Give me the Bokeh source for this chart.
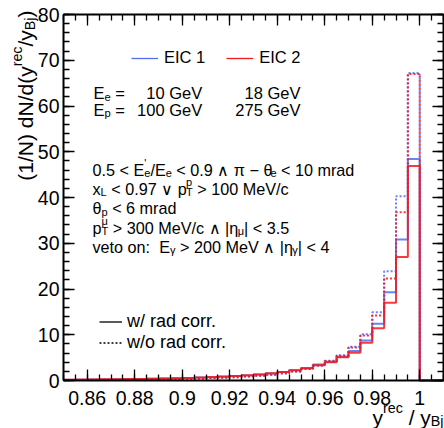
import math
from bokeh.plotting import figure
from bokeh.models import (Range1d, LinearAxis, SingleIntervalTicker,
                          CustomJSTickFormatter, Label, Legend, LegendItem)
from bokeh.embed import file_html
from bokeh.resources import INLINE

# ---------------- data ----------------
bin_lo = [0.850, 0.855, 0.860, 0.865, 0.870, 0.875, 0.880, 0.885, 0.890, 0.895,
          0.900, 0.905, 0.910, 0.915, 0.920, 0.925, 0.930, 0.935, 0.940, 0.945,
          0.950, 0.955, 0.960, 0.965, 0.970, 0.975, 0.980, 0.985, 0.990, 0.995,
          1.000, 1.005]
last_edge = 1.010

eic1_rad = [0.17, 0.19, 0.21, 0.24, 0.27, 0.30, 0.34, 0.38, 0.43, 0.49,
            0.55, 0.63, 0.72, 0.83, 0.96, 1.11, 1.30, 1.55, 1.86, 2.25,
            2.75, 3.50, 4.10, 5.20, 6.45, 8.75, 12.4, 19.3, 30.8, 48.4,
            0.0, 0.0]
eic2_rad = [0.18, 0.20, 0.22, 0.25, 0.28, 0.31, 0.35, 0.39, 0.44, 0.50,
            0.56, 0.64, 0.74, 0.85, 0.98, 1.13, 1.32, 1.57, 1.88, 2.25,
            2.70, 3.35, 4.00, 5.10, 6.05, 8.25, 11.4, 17.0, 27.0, 46.9,
            0.0, 0.0]
eic1_norad = [0.10, 0.11, 0.13, 0.15, 0.17, 0.19, 0.22, 0.25, 0.29, 0.33,
              0.38, 0.44, 0.52, 0.61, 0.72, 0.86, 1.03, 1.25, 1.55, 1.95,
              2.50, 3.30, 4.30, 5.50, 7.40, 10.1, 14.9, 23.9, 40.3, 67.2,
              0.0, 0.0]
eic2_norad = [0.11, 0.12, 0.14, 0.16, 0.18, 0.20, 0.23, 0.26, 0.30, 0.34,
              0.39, 0.45, 0.53, 0.62, 0.73, 0.87, 1.04, 1.27, 1.57, 1.95,
              2.50, 3.30, 4.25, 5.40, 7.20, 9.85, 14.2, 22.3, 36.8, 67.0,
              0.0, 0.0]

series_names = ["EIC 1", "EIC 2"]
style_names = ["w/ rad corr.", "w/o rad corr."]
x_title = ["y", "rec", " / y", "Bj"]
y_title = ["(1/N) dN/d(y", "rec", "/y", "Bj", ")"]

XA, XB = 0.85, 1.01      # axis limits
YA, YB = 0.0, 80.0

# ---------------- layout ----------------
FONT = "Liberation Sans"
BLUE = "#4f6ef2"
RED = "#f2191f"
W, H = 444, 428          # canvas (page body has no margin in Bokeh's template)
FX0, FX1 = 63.0, 443.0   # page px of the axis box
FY0, FY1 = 14.0, 380.0


def dx(px):   # page px -> data
    return XA + (px - FX0) * (XB - XA) / (FX1 - FX0)


def dy(py):
    return YA + (FY1 - py) * (YB - YA) / (FY1 - FY0)


p = figure(width=W, height=H, output_backend="svg", toolbar_location=None,
           x_range=Range1d(dx(0), dx(W)), y_range=Range1d(dy(H), dy(0)),
           min_border=0, x_axis_type=None, y_axis_type=None)
p.xgrid.visible = False
p.ygrid.visible = False
p.outline_line_color = None
p.background_fill_color = "white"
p.border_fill_color = "white"

fmt_x = CustomJSTickFormatter(code="return (Math.round(tick*1000)/1000).toString();")
fmt_y = CustomJSTickFormatter(code="return Math.round(tick).toString();")
fmt_none = CustomJSTickFormatter(code="return '';")


def make_axis(kind, labelled, loc):
    if kind == "x":
        tk = SingleIntervalTicker(interval=0.02, num_minor_ticks=4)
        bounds = (XA, XB)
    else:
        tk = SingleIntervalTicker(interval=10, num_minor_ticks=5)
        bounds = (YA, YB)
    ax = LinearAxis(ticker=tk, fixed_location=loc, bounds=bounds)
    ax.axis_line_color = "black"
    ax.axis_line_width = 2
    ax.major_tick_in = 11
    ax.major_tick_out = 0
    ax.minor_tick_in = 6
    ax.minor_tick_out = 0
    ax.major_tick_line_color = "black"
    ax.minor_tick_line_color = "black"
    ax.major_tick_line_width = 1.3
    ax.minor_tick_line_width = 1.3
    if labelled:
        ax.formatter = fmt_x if kind == "x" else fmt_y
        ax.major_label_text_font = FONT
        ax.major_label_text_font_size = "19.5px"
        ax.major_label_text_color = "black"
        ax.major_label_standoff = 10 if kind == "x" else 4
    else:
        ax.formatter = fmt_none
        ax.major_label_text_font_size = "0px"
        ax.major_label_standoff = 0
    return ax


p.add_layout(make_axis("x", True, YA), "below")
p.add_layout(make_axis("y", True, XA), "left")
p.add_layout(make_axis("x", False, YB), "above")
p.add_layout(make_axis("y", False, XB), "right")

# ---------------- histograms ----------------
xs = bin_lo + [last_edge]


def hist(vals, color, dash):
    return p.step(x=xs, y=vals + [vals[-1]], mode="after", line_color=color,
                  line_width=2, line_alpha=0.85, line_dash=dash)


hist(eic1_rad, BLUE, "solid")
hist(eic1_norad, BLUE, "2 2")
hist(eic2_rad, RED, "solid")
hist(eic2_norad, RED, "2 2")

# ---------------- legends ----------------
NAN = [float("nan")]
l_e1 = p.line(x=NAN, y=NAN, line_color=BLUE, line_width=1.3)
l_e2 = p.line(x=NAN, y=NAN, line_color=RED, line_width=1.3)
l_w = p.line(x=NAN, y=NAN, line_color="black", line_width=1.3)
l_wo = p.line(x=NAN, y=NAN, line_color="black", line_width=1.3, line_dash="2 2")

leg1 = Legend(items=[LegendItem(label=series_names[0], renderers=[l_e1]),
                     LegendItem(label=series_names[1], renderers=[l_e2])],
              orientation="horizontal", location=(131, H - 67.7),
              glyph_width=27, glyph_height=20, label_height=20, label_standoff=6,
              spacing=21, padding=0, margin=0, border_line_color=None,
              background_fill_alpha=0, label_text_font=FONT,
              label_text_font_size="16.5px", label_text_color="black")
leg2 = Legend(items=[LegendItem(label=style_names[0], renderers=[l_w]),
                     LegendItem(label=style_names[1], renderers=[l_wo])],
              orientation="vertical", location=(99, H - 352.5),
              glyph_width=23, glyph_height=19, label_height=19, label_standoff=5,
              spacing=0, padding=0, margin=0, border_line_color=None,
              background_fill_alpha=0, label_text_font=FONT,
              label_text_font_size="18px", label_text_color="black")
p.add_layout(leg1)
p.add_layout(leg2)

# ---------------- rich text helper ----------------
CW = {' ': 278, '(': 333, ')': 333, '+': 584, ',': 278, '-': 333,
      '.': 278, '/': 278, ':': 278, '<': 584, '=': 584, '>': 584, '|': 260,
      "'": 191, 'θ': 556, 'π': 600, 'γ': 500, 'η': 556, 'μ': 576, '∧': 700,
      '∨': 700, '−': 584}
for c in "0123456789":
    CW[c] = 556
CW.update(dict(zip("ABCDEFGHIJKLMNOPQRSTUVWXYZ",
                   [667, 667, 722, 722, 667, 611, 778, 722, 278, 500, 667, 556, 833,
                    722, 778, 667, 778, 722, 667, 611, 722, 667, 944, 667, 667, 611])))
CW.update(dict(zip("abcdefghijklmnopqrstuvwxyz",
                   [556, 556, 500, 556, 556, 278, 556, 556, 222, 222, 500, 222, 833,
                    556, 556, 556, 556, 333, 500, 278, 556, 500, 722, 500, 500, 500])))

SUBK = 0.68


def tw(s, sz):
    return sum(CW.get(c, 556) for c in s) / 1000.0 * sz


def rich(x_px, y_px, parts, size, align="left", angle=0.0, subdrop=0.22):
    """x_px, y_px: baseline anchor in page px."""
    items = []
    off = 0.0
    ss = size * SUBK
    for part in parts:
        kind = part[0]
        if kind == "n":
            items.append((off, 0.0, part[1], size))
            off += tw(part[1], size)
        elif kind == "sub":
            items.append((off, -subdrop * size, part[1], ss))
            off += tw(part[1], ss)
        elif kind == "sup":
            items.append((off, 0.42 * size, part[1], ss))
            off += tw(part[1], ss)
        elif kind == "ss":
            items.append((off, -subdrop * size, part[1], ss))
            items.append((off, 0.42 * size, part[2], ss))
            off += max(tw(part[1], ss), tw(part[2], ss))
    start = 0.0 if align == "left" else -off
    for o, sh, t, sz in items:
        lead = len(t) - len(t.lstrip(" "))
        o2 = start + o + tw(" " * lead, sz)
        t2 = t.strip(" ")
        if not t2:
            continue
        if angle == 0:
            px, py = x_px + o2, y_px - sh
        else:
            px, py = x_px - sh, y_px - o2
        p.add_layout(Label(x=dx(px), y=dy(py), text=t2, text_font=FONT,
                           text_font_size=f"{sz:.2f}px", text_color="black",
                           text_baseline="alphabetic", text_align="left",
                           angle=angle))


# beam energies
EF = 16.5
rich(93, 92.7, [("n", "E"), ("sub", "e"), ("n", " =")], EF)
rich(201.7, 92.7, [("n", "10 GeV")], EF, align="right")
rich(300, 92.7, [("n", "18 GeV")], EF, align="right")
rich(93, 109.3, [("n", "E"), ("sub", "p"), ("n", " =")], EF)
rich(201.7, 109.3, [("n", "100 GeV")], EF, align="right")
rich(300, 109.3, [("n", "275 GeV")], EF, align="right")

# cuts
CF = 16.2
rich(92, 169.3, [("n", "0.5 < E"), ("ss", "e", "'"), ("n", "/E"), ("sub", "e"),
                 ("n", " < 0.9 ∧ π − θ"), ("sub", "e"), ("n", " < 10 mrad")], CF)
rich(92, 188.3, [("n", "x"), ("sub", "L"), ("n", " < 0.97 ∨ p"), ("ss", "T", "p"),
                 ("n", " > 100 MeV/c")], CF)
rich(92, 207.5, [("n", "θ"), ("sub", "p"), ("n", " < 6 mrad")], CF)
rich(92, 227.3, [("n", "p"), ("ss", "T", "μ"), ("n", " > 300 MeV/c ∧ |η"),
                 ("sub", "μ"), ("n", "| < 3.5")], CF)
rich(92, 246.0, [("n", "veto on:"), ("n", "  E"), ("sub", "γ"),
                 ("n", " > 200 MeV ∧ |η"), ("sub", "γ"), ("n", "| < 4")], CF)

# axis titles
TF = 21
rich(FX1, 416.5, [("n", x_title[0]), ("sup", x_title[1]), ("n", x_title[2]),
                  ("sub", x_title[3])], TF, align="right", subdrop=0.18)
rich(25, 10, [("n", y_title[0]), ("sup", y_title[1]), ("n", y_title[2]),
              ("sub", y_title[3]), ("n", y_title[4])], TF, align="right",
     angle=math.pi / 2)

open("out.html", "w").write(file_html(p, INLINE))
